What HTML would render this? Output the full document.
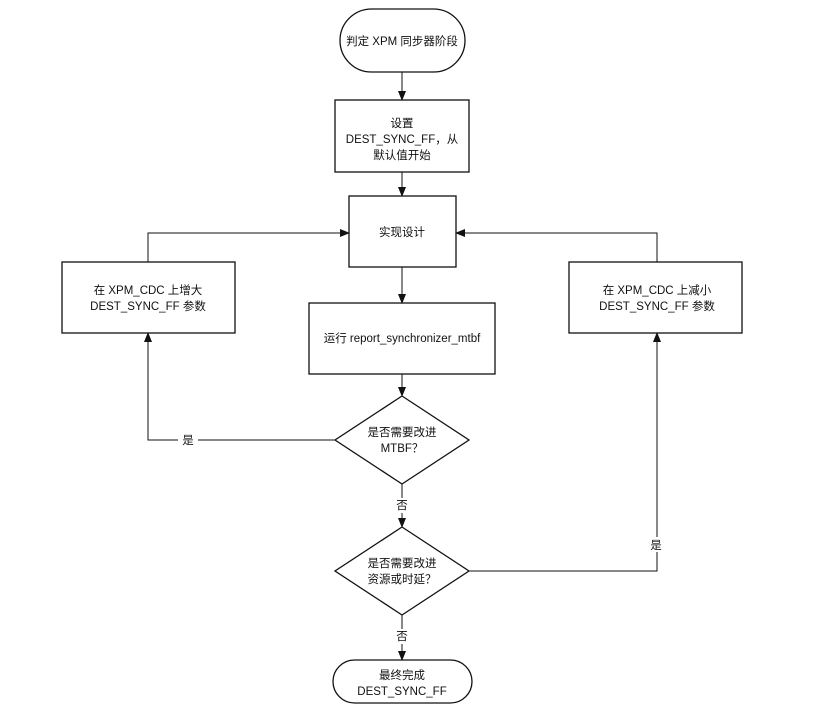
<!DOCTYPE html>
<html><head><meta charset="utf-8"><style>
body{margin:0;background:#fff}
text{font-family:"Liberation Sans","Noto Sans CJK SC",sans-serif;font-size:11.5px;fill:#111;text-anchor:middle}
</style></head><body>
<svg width="813" height="710" viewBox="0 0 813 710">
<defs><marker id="a" markerWidth="10" markerHeight="10" refX="9" refY="5" orient="auto" markerUnits="userSpaceOnUse"><path d="M0,1 L10,5 L0,9 Z" fill="#111"/></marker></defs>
<g fill="none" stroke="#111" stroke-width="1.3">
<rect x="340" y="9" width="125" height="63" rx="31.5"/>
<rect x="335" y="100" width="134" height="72"/>
<rect x="349" y="196" width="107" height="71"/>
<rect x="309" y="303" width="186" height="71"/>
<rect x="62" y="262" width="173" height="71"/>
<rect x="569" y="262" width="173" height="71"/>
<path d="M402,396 L469,440 L402,484 L335,440 Z"/>
<path d="M402,527 L469,571 L402,615 L335,571 Z"/>
<rect x="333" y="660" width="139" height="43" rx="21.5"/>
</g>
<g fill="none" stroke="#111" stroke-width="1" marker-end="url(#a)">
<line x1="402" y1="72" x2="402" y2="100"/>
<line x1="402" y1="172" x2="402" y2="196"/>
<line x1="402" y1="267" x2="402" y2="303"/>
<line x1="402" y1="374" x2="402" y2="396"/>
<line x1="402" y1="484" x2="402" y2="527"/>
<line x1="402" y1="615" x2="402" y2="660"/>
<polyline points="335,440 148,440 148,333"/>
<polyline points="148,262 148,233 349,233"/>
<polyline points="469,571 657,571 657,333"/>
<polyline points="657,262 657,233 456,233"/>
</g>
<g fill="#fff"><rect x="392" y="498" width="20" height="15"/><rect x="392" y="629" width="20" height="15"/><rect x="178" y="432" width="20" height="15"/><rect x="646" y="537" width="20" height="15"/></g>
<text x="402" y="45">判定 XPM 同步器阶段</text>
<text x="402" y="127">设置</text>
<text x="402" y="143">DEST_SYNC_FF，从</text>
<text x="402" y="159">默认值开始</text>
<text x="402" y="236">实现设计</text>
<text x="402" y="342">运行 report_synchronizer_mtbf</text>
<text x="148" y="294">在 XPM_CDC 上增大</text>
<text x="148" y="310">DEST_SYNC_FF 参数</text>
<text x="657" y="294">在 XPM_CDC 上减小</text>
<text x="657" y="310">DEST_SYNC_FF 参数</text>
<text x="402" y="436">是否需要改进</text>
<text x="402" y="452">MTBF？</text>
<text x="402" y="567">是否需要改进</text>
<text x="402" y="583">资源或时延？</text>
<text x="402" y="679">最终完成</text>
<text x="402" y="695">DEST_SYNC_FF</text>
<text x="402" y="509">否</text>
<text x="402" y="640">否</text>
<text x="188" y="444">是</text>
<text x="656" y="549">是</text>
</svg>
</body></html>
